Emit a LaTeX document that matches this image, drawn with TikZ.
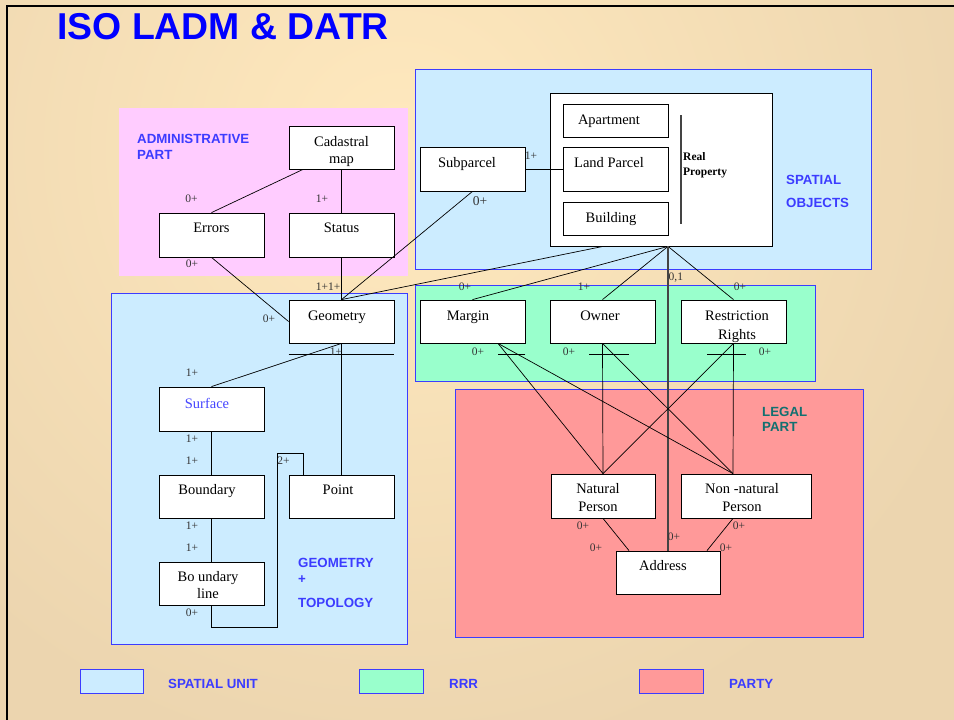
\documentclass[tikz,border=0pt]{standalone}
\usepackage{fontspec}
\setmainfont{Liberation Serif}
\newfontfamily\arialf{Liberation Sans}
\definecolor{bglight}{HTML}{FFE9BE}
\definecolor{bgdark}{HTML}{ECD5AF}
\definecolor{pinkreg}{HTML}{FFCCFF}
\definecolor{bluereg}{HTML}{CCECFF}
\definecolor{greenreg}{HTML}{99FFCC}
\definecolor{redreg}{HTML}{FF9999}
\definecolor{regborder}{HTML}{3C3CFF}
\definecolor{regtext}{HTML}{3C3CFF}
\definecolor{legaltext}{HTML}{127070}
\definecolor{lblgray}{HTML}{333333}
\definecolor{hubgray}{HTML}{444444}
\definecolor{surfblue}{HTML}{4646FF}
\tikzset{
  region/.style={fill=#1, draw=regborder, line width=0.8pt},
  box/.style={draw=black, fill=white, line width=0.8pt, inner sep=0pt, minimum width=105pt, minimum height=43pt},
  btxt/.style={font=\fontsize{14.5}{17}\selectfont, inner sep=0pt, anchor=base},
  lbl/.style={font=\fontsize{11.5}{13}\selectfont, text=lblgray, inner sep=0pt, anchor=center},
  rtxt/.style={font=\arialf\bfseries\fontsize{13.3}{16}\selectfont, text=regtext, inner sep=0pt, anchor=base west},
  conn/.style={draw=black, line width=0.7pt},
  hubline/.style={draw=hubgray, line width=1.6pt},
}
\begin{document}
\begin{tikzpicture}[x=1pt,y=-1pt]
\useasboundingbox (0,0) rectangle (954,720);
% background
\begin{scope}
\clip (0,0) rectangle (954,720);
\fill[bgdark] (0,0) rectangle (954,720);
\shade[inner color=bglight, outer color=bgdark] (400,150) circle (620);
\end{scope}
\draw[black, line width=2pt] (954,6) -- (7,6) -- (7,720);
% title
\node[font=\arialf\bfseries\fontsize{37.4}{40}\selectfont, text={rgb,255:red,0;green,0;blue,255}, inner sep=0pt, anchor=base west] (title) at (57,39) {ISO LADM \& DATR};
% regions
\fill[pinkreg] (119,108) rectangle (408,276);
\path[region=bluereg] (415,69) rectangle (871,269);
\path[region=bluereg] (111,293) rectangle (407,644);
\path[region=greenreg] (415,285) rectangle (815,381);
\path[region=redreg] (455,389) rectangle (863,637);
% region labels
\node[rtxt] (admA) at (137,143) {ADMINISTRATIVE};
\node[rtxt] (admB) at (137,159) {PART};
\node[rtxt] (spA) at (786,184) {SPATIAL};
\node[rtxt] (spB) at (786,207) {OBJECTS};
\node[rtxt] (geA) at (298,567) {GEOMETRY};
\node[rtxt] (geB) at (298,583) {+};
\node[rtxt] (geC) at (298,607) {TOPOLOGY};
\node[rtxt, text=legaltext] (lgA) at (762,416) {LEGAL};
\node[rtxt, text=legaltext] (lgB) at (762,431) {PART};
% boxes
\node[box] (cad) at (341.5,147.5) {};
\node[box, minimum height=44pt] (errors) at (211.5,235) {};
\node[box, minimum height=44pt] (status) at (341.5,235) {};
\node[box, minimum height=44pt] (sub) at (472.5,169) {};
\node[box, minimum width=222pt, minimum height=153pt] (rp) at (661,169.5) {};
\node[box, minimum height=33pt] (apt) at (615.5,120.5) {};
\node[box, minimum height=44pt] (land) at (615.5,169) {};
\node[box, minimum height=33pt] (bldg) at (615.5,218.5) {};
\node[box] (geom) at (341.5,321.5) {};
\node[box] (margin) at (472.5,321.5) {};
\node[box] (owner) at (602.5,321.5) {};
\node[box] (restr) at (733.5,321.5) {};
\node[box, minimum width=104pt, minimum height=44pt] (nat) at (603,496) {};
\node[box, minimum width=130pt, minimum height=44pt] (nonnat) at (746,496) {};
\node[box, minimum width=104pt] (addr) at (668,572.5) {};
\node[box, minimum height=44pt] (surf) at (211.5,409) {};
\node[box] (bound) at (211.5,496.5) {};
\node[box] (bline) at (211.5,583.5) {};
\node[box] (point) at (341.5,496.5) {};
% box texts
\node[btxt] (cadT1) at (341.5,146) {Cadastral};
\node[btxt] (cadT2) at (341.5,163) {map};
\node[btxt] (errT) at (211.5,232) {Errors};
\node[btxt] (staT) at (341.5,232) {Status};
\node[btxt] (subT) at (467,167) {Subparcel};
\node[btxt] (aptT) at (609,124) {Apartment};
\node[btxt] (landT) at (609,167) {Land Parcel};
\node[btxt] (bldgT) at (611,222) {Building};
\node[font=\bfseries\fontsize{11.5}{14}\selectfont, inner sep=0pt, anchor=base west] (rpT1) at (683,160) {Real};
\node[font=\bfseries\fontsize{11.5}{14}\selectfont, inner sep=0pt, anchor=base west] (rpT2) at (683,175) {Property};
\node[btxt] (geomT) at (337,320) {Geometry};
\node[btxt] (marT) at (468,320) {Margin};
\node[btxt] (ownT) at (600,320) {Owner};
\node[btxt] (resT1) at (737,320) {Restriction};
\node[btxt] (resT2) at (737,339) {Rights};
\node[btxt] (natT1) at (598,493) {Natural};
\node[btxt] (natT2) at (598,511) {Person};
\node[btxt] (nonT1) at (742,493) {Non -natural};
\node[btxt] (nonT2) at (742,511) {Person};
\node[btxt] (addrT) at (663,570.5) {Address};
\node[btxt, text=surfblue] (surfT) at (207,408) {Surface};
\node[btxt] (bouT) at (207,494) {Boundary};
\node[btxt] (blT1) at (208,581.5) {Bo undary};
\node[btxt] (blT2) at (208,598) {line};
\node[btxt] (ptT) at (338,494) {Point};
% real property bar
\coordinate (barA) at (681,115);
\coordinate (barB) at (681,224);
\draw[draw=hubgray, line width=1.4pt] (barA) -- (barB);
% connectors
\coordinate (hub) at ([xshift=7pt]rp.south);
\draw[conn] ([xshift=-38.5pt]cad.south) -- (errors.north);
\draw[conn] (cad.south) -- (status.north);
\draw[conn] (status.south) -- (geom.north);
\draw[conn] (errors.south) -- (geom.west);
\draw[conn] (sub.south) -- (geom.north);
\draw[conn] ([xshift=-58pt]rp.south) -- (geom.north);
\draw[conn] (sub.east) -- (land.west);
\draw[conn] (hub) -- (margin.north);
\draw[conn] (hub) -- (owner.north);
\draw[conn] (hub) -- (restr.north);
\draw[hubline] (hub) -- (addr.north);
\draw[conn] ([yshift=-11pt]geom.south west) -- ([yshift=-11pt]geom.south east);
\draw[conn] (geom.south) -- (surf.north);
\draw[conn] (geom.south) -- (point.north);
\draw[conn] (surf.south) -- (bound.north);
\draw[conn] (bound.south) -- (bline.north);
\coordinate (loopB) at (277,627);
\coordinate (loopT) at (277,453);
\draw[conn] (bline.south) |- (loopB) -- (loopT) -| ([xshift=-38.5pt]point.north);
\draw[conn] ([yshift=-11pt]margin.south east) -- ++(-27,0);
\draw[conn] ([xshift=-13.5pt,yshift=-11pt]owner.south) -- ([xshift=26.5pt,yshift=-11pt]owner.south);
\draw[conn] ([xshift=-26.5pt,yshift=-11pt]restr.south) -- ([xshift=12.5pt,yshift=-11pt]restr.south);
\draw[conn] ([xshift=25.5pt]margin.south) -- (nat.north);
\draw[conn] ([xshift=25.5pt]margin.south) -- ([xshift=-13pt]nonnat.north);
\draw[conn] (owner.south) -- (nat.north);
\draw[conn] (owner.south) -- ([xshift=-13pt]nonnat.north);
\draw[conn] (restr.south) -- (nat.north);
\draw[conn] (restr.south) -- ([xshift=-13pt]nonnat.north);
\draw[conn] (nat.south) -- ([xshift=-39pt]addr.north);
\draw[conn] ([xshift=-13pt]nonnat.south) -- ([xshift=39pt]addr.north);
% multiplicity labels
\node[lbl] (l1) at (191.5,199) {0+};
\node[lbl] (l2) at (322,199) {1+};
\node[lbl] (l3) at (192,264) {0+};
\node[lbl] (l4) at (328,287) {1+1+};
\node[lbl] (l5) at (269,319) {0+};
\node[lbl] (l6) at (336,352) {1+};
\node[lbl] (l7) at (531,156) {1+};
\node[lbl, font=\fontsize{13.5}{15}\selectfont] (l8) at (480,201) {0+};
\node[font=\fontsize{11.5}{13}\selectfont, text=lblgray, inner sep=0pt, anchor=base west] (l9) at (668.5,280) {0,1};
\node[lbl] (l10) at (465,287) {0+};
\node[lbl] (l11) at (584,287) {1+};
\node[lbl] (l12) at (740,287) {0+};
\node[lbl] (l13) at (478,352) {0+};
\node[lbl] (l14) at (569,352) {0+};
\node[lbl] (l15) at (765,352) {0+};
\node[lbl] (l16) at (583,526) {0+};
\node[lbl] (l17) at (596,548) {0+};
\node[lbl] (l18) at (674,537) {0+};
\node[lbl] (l19) at (739,526) {0+};
\node[lbl] (l20) at (726,548) {0+};
\node[lbl] (l21) at (192,373) {1+};
\node[lbl] (l22) at (192,439) {1+};
\node[lbl] (l23) at (192,461) {1+};
\node[lbl] (l24) at (192,526) {1+};
\node[lbl] (l25) at (192,548) {1+};
\node[lbl] (l26) at (192,613) {0+};
\node[lbl] (l27) at (283.5,461) {2+};
% legend
\path[region=bluereg] (80,669) rectangle (143,693);
\path[region=greenreg] (359,669) rectangle (423,693);
\path[region=redreg] (639,669) rectangle (703,693);
\node[rtxt] (lgSU) at (168,688) {SPATIAL UNIT};
\node[rtxt] (lgRRR) at (449,688) {RRR};
\node[rtxt] (lgP) at (729,688) {PARTY};
\end{tikzpicture}
\end{document}
